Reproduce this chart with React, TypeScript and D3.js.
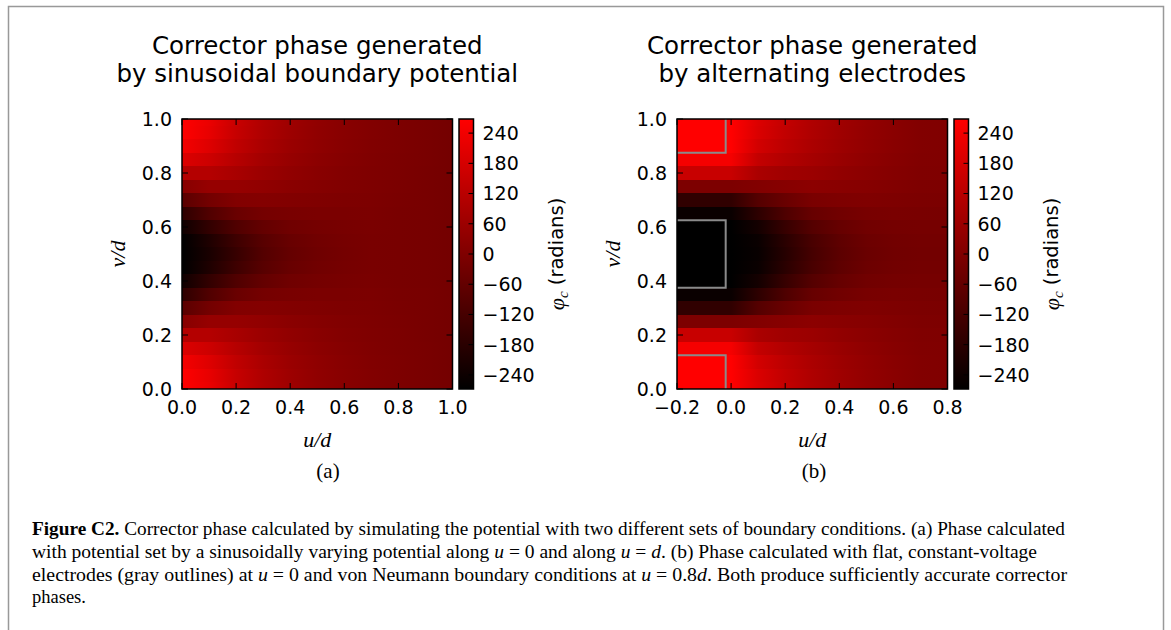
import React from "react";
import * as d3 from "d3";

// ---------- data ----------
// rows: v/d positions of the phase grid (both panels)
const V_ROWS = [0, 0.05, 0.1, 0.15, 0.2, 0.25, 0.3, 0.35, 0.4, 0.45, 0.5, 0.55, 0.6, 0.65, 0.7, 0.75, 0.8, 0.85, 0.9, 0.95, 1.0];

// panel (a): columns u/d
const U_COLS_A = [0, 0.1, 0.2, 0.3, 0.4, 0.5, 0.6, 0.7, 0.8, 0.9, 1.0];
// panel (a): corrector phase (radians), one row per V_ROWS entry
const PHASE_A = [
  [290, 226, 152, 100, 64, 37, 18, 5, -5, -14, -24],
  [285, 220, 148, 98, 62, 35, 18, 5, -5, -14, -24],
  [247, 199, 135, 89, 55, 33, 16, 3, -5, -14, -24],
  [194, 163, 114, 74, 47, 26, 11, 1, -8, -14, -24],
  [110, 110, 85, 58, 37, 20, 7, -1, -8, -16, -24],
  [15, 47, 47, 37, 22, 11, 3, -3, -10, -16, -24],
  [-79, -26, 5, 9, 5, 1, -3, -5, -12, -16, -24],
  [-173, -100, -48, -22, -14, -10, -10, -8, -14, -16, -24],
  [-236, -163, -100, -58, -33, -22, -16, -12, -16, -18, -24],
  [-290, -205, -138, -83, -50, -31, -20, -14, -16, -18, -24],
  [-300, -216, -152, -92, -56, -35, -22, -14, -16, -18, -24],
  [-290, -205, -138, -83, -50, -31, -20, -14, -16, -18, -24],
  [-236, -163, -100, -58, -33, -22, -16, -12, -16, -18, -24],
  [-173, -100, -48, -22, -14, -10, -10, -8, -14, -16, -24],
  [-79, -26, 5, 9, 5, 1, -3, -5, -12, -16, -24],
  [15, 47, 47, 37, 22, 11, 3, -3, -10, -16, -24],
  [110, 110, 85, 58, 37, 20, 7, -1, -8, -16, -24],
  [194, 163, 114, 74, 47, 26, 11, 1, -8, -14, -24],
  [247, 199, 135, 89, 55, 33, 16, 3, -5, -14, -24],
  [285, 220, 148, 98, 62, 35, 18, 5, -5, -14, -24],
  [290, 226, 152, 100, 64, 37, 18, 5, -5, -14, -24],
];

// panel (b): columns u/d
const U_COLS_B = [-0.2, 0.0, 0.1, 0.2, 0.3, 0.4, 0.5, 0.6, 0.7, 0.8];
const PHASE_B = [
  [290, 290, 194, 142, 100, 68, 43, 22, 5, 1],
  [290, 290, 190, 138, 98, 66, 41, 22, 5, 1],
  [290, 290, 173, 127, 91, 62, 39, 20, 5, 1],
  [247, 247, 142, 106, 79, 53, 33, 16, 3, 0],
  [152, 152, 89, 68, 58, 39, 24, 11, 1, -2],
  [-5, -5, 5, 16, 26, 20, 14, 5, -3, -5],
  [-167, -167, -89, -48, -12, -3, 1, -3, -8, -10],
  [-247, -247, -173, -104, -52, -31, -16, -12, -14, -15],
  [-290, -290, -226, -152, -89, -54, -31, -22, -20, -20],
  [-300, -300, -247, -180, -115, -70, -41, -28, -24, -24],
  [-300, -300, -251, -188, -121, -75, -45, -31, -26, -26],
  [-300, -300, -247, -180, -115, -70, -41, -28, -24, -24],
  [-290, -290, -226, -152, -89, -54, -31, -22, -20, -20],
  [-247, -247, -173, -104, -52, -31, -16, -12, -14, -15],
  [-167, -167, -89, -48, -12, -3, 1, -3, -8, -10],
  [-5, -5, 5, 16, 26, 20, 14, 5, -3, -5],
  [152, 152, 89, 68, 58, 39, 24, 11, 1, -2],
  [247, 247, 142, 106, 79, 53, 33, 16, 3, 0],
  [290, 290, 173, 127, 91, 62, 39, 20, 5, 1],
  [290, 290, 190, 138, 98, 66, 41, 22, 5, 1],
  [290, 290, 194, 142, 100, 68, 43, 22, 5, 1],
];

// electrodes in panel (b): v ranges, and u extent
const ELECTRODE_V = [
  [0, 0.125],
  [0.375, 0.625],
  [0.875, 1.0],
];
const ELECTRODE_U = [-0.2, -0.02];

const COLOR_DOMAIN = [-268, 268];
const CBAR_TICKS = [240, 180, 120, 60, 0, -60, -120, -180, -240];
const Y_TICKS = [0, 0.2, 0.4, 0.6, 0.8, 1.0];
const X_TICKS_A = [0, 0.2, 0.4, 0.6, 0.8, 1.0];
const X_TICKS_B = [-0.2, 0, 0.2, 0.4, 0.6, 0.8];

const TITLES_A = ["Corrector phase generated", "by sinusoidal boundary potential"];
const TITLES_B = ["Corrector phase generated", "by alternating electrodes"];

// ---------- layout ----------
const SANS = "'DejaVu Sans', sans-serif";
const SERIF = "'Liberation Serif', 'DejaVu Serif', serif";
const AX_TOP = 119;
const AX_BOTTOM = 389;
const AX_W = 270.5;
const TICK = 6;

const color = d3.scaleLinear<string>().domain(COLOR_DOMAIN).range(["#000000", "#ff0000"]).clamp(true);

type PanelProps = {
  id: string;
  left: number;
  xDomain: [number, number];
  xTicks: number[];
  uCols: number[];
  grid: number[][];
  titles: string[];
  tag: string;
  tagX: number;
  electrodes?: boolean;
};

function Panel(p: PanelProps) {
  const x = d3.scaleLinear().domain(p.xDomain).range([p.left, p.left + AX_W]);
  const y = d3.scaleLinear().domain([0, 1]).range([AX_BOTTOM, AX_TOP]);
  const cbX = p.left + AX_W + 6.5;
  const cbW = 14.5;
  const cy = d3.scaleLinear().domain(COLOR_DOMAIN).range([AX_BOTTOM, AX_TOP]);
  const fmt1 = d3.format(".1f");
  const fmtInt = d3.format("d");
  const half = (V_ROWS[1] - V_ROWS[0]) / 2;
  const u0 = p.uCols[0];
  const uN = p.uCols[p.uCols.length - 1];
  const cx = p.left + AX_W / 2;
  const ylabX = p.left - 64;
  const cbLabX = cbX + cbW + 84;
  const midY = (AX_TOP + AX_BOTTOM) / 2;

  return (
    <g>
      <defs>
        {V_ROWS.map((v, i) => (
          <linearGradient
            key={i}
            id={`${p.id}-row-${i}`}
            gradientUnits="userSpaceOnUse"
            x1={x(u0)}
            x2={x(uN)}
            y1={0}
            y2={0}
          >
            {p.uCols.map((u, j) => (
              <stop key={j} offset={(u - u0) / (uN - u0)} stopColor={color(p.grid[i][j])} />
            ))}
          </linearGradient>
        ))}
        <linearGradient id={`${p.id}-cbar`} x1={0} x2={0} y1={1} y2={0}>
          <stop offset={0} stopColor={color(COLOR_DOMAIN[0])} />
          <stop offset={1} stopColor={color(COLOR_DOMAIN[1])} />
        </linearGradient>
      </defs>

      {/* titles */}
      {p.titles.map((t, i) => (
        <text key={i} x={cx} y={54 + i * 28} textAnchor="middle" fontFamily={SANS} fontSize={24.5} fill="#000">
          {t}
        </text>
      ))}

      {/* heatmap */}
      {V_ROWS.map((v, i) => {
        const top = Math.min(1, v + half);
        const bot = Math.max(0, v - half);
        return (
          <rect
            key={i}
            x={x(p.xDomain[0])}
            y={y(top)}
            width={x(p.xDomain[1]) - x(p.xDomain[0])}
            height={y(bot) - y(top)}
            fill={`url(#${p.id}-row-${i})`}
            shapeRendering="crispEdges"
          />
        );
      })}

      {/* electrode outlines */}
      {p.electrodes &&
        ELECTRODE_V.map(([a, b], i) => {
          const pts: [number, number][] = [];
          if (a > 0) {
            pts.push([ELECTRODE_U[0], a], [ELECTRODE_U[1], a]);
          } else {
            pts.push([ELECTRODE_U[1], a]);
          }
          if (b < 1) {
            pts.push([ELECTRODE_U[1], b], [ELECTRODE_U[0], b]);
          } else {
            pts.push([ELECTRODE_U[1], b]);
          }
          const line = d3
            .line<[number, number]>()
            .x((d) => x(d[0]))
            .y((d) => y(d[1]));
          return <path key={i} d={line(pts) || ""} fill="none" stroke="#8a8a8a" strokeWidth={2} />;
        })}

      {/* ticks on all four sides (inward) */}
      {p.xTicks.map((t, i) => (
        <g key={"xt" + i}>
          <line x1={x(t)} x2={x(t)} y1={AX_BOTTOM} y2={AX_BOTTOM - TICK} stroke="#000" strokeWidth={1} />
          <line x1={x(t)} x2={x(t)} y1={AX_TOP} y2={AX_TOP + TICK} stroke="#000" strokeWidth={1} />
          <text x={x(t)} y={AX_BOTTOM + 25} textAnchor="middle" fontFamily={SANS} fontSize={19} fill="#000">
            {fmt1(t)}
          </text>
        </g>
      ))}
      {Y_TICKS.map((t, i) => (
        <g key={"yt" + i}>
          <line x1={p.left} x2={p.left + TICK} y1={y(t)} y2={y(t)} stroke="#000" strokeWidth={1} />
          <line x1={p.left + AX_W} x2={p.left + AX_W - TICK} y1={y(t)} y2={y(t)} stroke="#000" strokeWidth={1} />
          <text
            x={p.left - 10}
            y={y(t)}
            dy="0.36em"
            textAnchor="end"
            fontFamily={SANS}
            fontSize={19}
            fill="#000"
          >
            {fmt1(t)}
          </text>
        </g>
      ))}

      {/* axes frame */}
      <rect
        x={p.left}
        y={AX_TOP}
        width={AX_W}
        height={AX_BOTTOM - AX_TOP}
        fill="none"
        stroke="#000"
        strokeWidth={1.5}
      />

      {/* axis labels */}
      <text
        x={cx}
        y={AX_BOTTOM + 58}
        textAnchor="middle"
        fontFamily={SERIF}
        fontStyle="italic"
        fontSize={22}
        fill="#000"
      >
        u/d
      </text>
      <text
        transform={`translate(${ylabX},${midY}) rotate(-90)`}
        textAnchor="middle"
        dy="0.3em"
        fontFamily={SERIF}
        fontStyle="italic"
        fontSize={22}
        fill="#000"
      >
        v/d
      </text>
      <text x={p.tagX} y={478} textAnchor="middle" fontFamily={SERIF} fontSize={21} fill="#000">
        {p.tag}
      </text>

      {/* colorbar */}
      <rect x={cbX} y={AX_TOP} width={cbW} height={AX_BOTTOM - AX_TOP} fill={`url(#${p.id}-cbar)`} />
      {CBAR_TICKS.map((t, i) => (
        <g key={"cb" + i}>
          <line x1={cbX + cbW} x2={cbX + cbW - 5} y1={cy(t)} y2={cy(t)} stroke="#000" strokeWidth={1} />
          <text x={cbX + cbW + 9} y={cy(t)} dy="0.36em" fontFamily={SANS} fontSize={19} fill="#000">
            {fmtInt(t)}
          </text>
        </g>
      ))}
      <rect
        x={cbX}
        y={AX_TOP}
        width={cbW}
        height={AX_BOTTOM - AX_TOP}
        fill="none"
        stroke="#000"
        strokeWidth={1.5}
      />
      <text
        transform={`translate(${cbLabX},${midY}) rotate(-90)`}
        textAnchor="middle"
        dy="0.35em"
        fontFamily={SANS}
        fontSize={19.5}
        fill="#000"
      >
        <tspan fontFamily={SERIF} fontStyle="italic" fontSize={22}>
          φ
        </tspan>
        <tspan fontFamily={SERIF} fontStyle="italic" fontSize={15} dy="0.25em">
          c
        </tspan>
        <tspan dy="-0.25em"> (radians)</tspan>
      </text>
    </g>
  );
}

function Caption() {
  const x0 = 32;
  const base = 535;
  const lh = 22.8;
  const fs = 18.5;
  const I = (s: string) => <tspan fontStyle="italic">{s}</tspan>;
  return (
    <g fontFamily={SERIF} fontSize={fs} fill="#000">
      <text x={x0} y={base} textLength={1033} lengthAdjust="spacingAndGlyphs">
        <tspan fontWeight="bold">Figure C2.</tspan>
        {" Corrector phase calculated by simulating the potential with two different sets of boundary conditions. (a) Phase calculated"}
      </text>
      <text x={x0} y={base + lh} textLength={1005} lengthAdjust="spacingAndGlyphs">
        {"with potential set by a sinusoidally varying potential along "}
        {I("u")}
        {" = 0 and along "}
        {I("u")}
        {" = "}
        {I("d")}
        {". (b) Phase calculated with flat, constant-voltage"}
      </text>
      <text x={x0} y={base + 2 * lh} textLength={1035} lengthAdjust="spacingAndGlyphs">
        {"electrodes (gray outlines) at "}
        {I("u")}
        {" = 0 and von Neumann boundary conditions at "}
        {I("u")}
        {" = 0.8"}
        {I("d")}
        {". Both produce sufficiently accurate corrector"}
      </text>
      <text x={x0} y={base + 3 * lh}>
        phases.
      </text>
    </g>
  );
}

export default function App() {
  return (
    <svg
      width={1171}
      height={630}
      viewBox="0 0 1171 630"
      style={{ position: "absolute", left: 0, top: 0, background: "#fff" }}
    >
      <rect x={0} y={0} width={1171} height={630} fill="#fff" />
      <Panel
        id="pa"
        left={182}
        xDomain={[0, 1]}
        xTicks={X_TICKS_A}
        uCols={U_COLS_A}
        grid={PHASE_A}
        titles={TITLES_A}
        tag="(a)"
        tagX={328}
      />
      <Panel
        id="pb"
        left={677}
        xDomain={[-0.2, 0.8]}
        xTicks={X_TICKS_B}
        uCols={U_COLS_B}
        grid={PHASE_B}
        titles={TITLES_B}
        tag="(b)"
        tagX={814}
        electrodes
      />
      <Caption />
      <rect x={8.5} y={6.5} width={1155} height={640} fill="none" stroke="#999" strokeWidth={1.5} />
    </svg>
  );
}
